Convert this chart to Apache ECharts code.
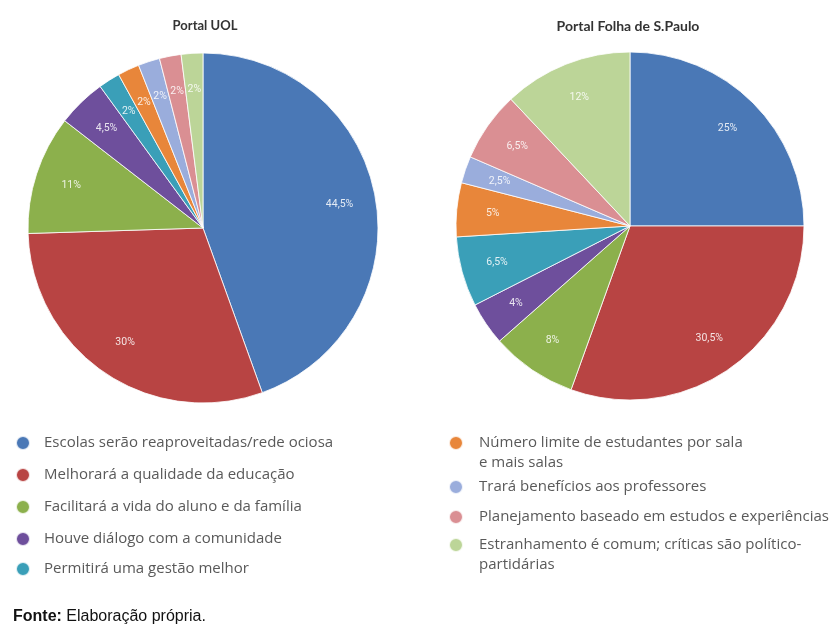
<!DOCTYPE html>
<html>
<head>
<meta charset="utf-8">
<script src="https://cdn.jsdelivr.net/npm/echarts@6/dist/echarts.min.js"></script>
<style>
html,body{margin:0;padding:0;background:#fff;}
#chart{width:831px;height:626px;}
</style>
</head>
<body>
<div id="chart"></div>
<script>
var categories = [
  'Escolas serão reaproveitadas/rede ociosa',
  'Melhorará a qualidade da educação',
  'Facilitará a vida do aluno e da família',
  'Houve diálogo com a comunidade',
  'Permitirá uma gestão melhor',
  'Número limite de estudantes por sala\ne mais salas',
  'Trará benefícios aos professores',
  'Planejamento baseado em estudos e experiências',
  'Estranhamento é comum; críticas são político-\npartidárias'
];
var uolValues = [44.5, 30, 11, 4.5, 2, 2, 2, 2, 2];
var folhaValues = [25, 30.5, 8, 4, 6.5, 5, 2.5, 6.5, 12];
var titles = ['Portal UOL', 'Portal Folha de S.Paulo'];
var colors = ['#4a78b6', '#b84443', '#8cb04c', '#6e4f9c', '#3a9fb8', '#e8863a', '#9aaddc', '#da8f93', '#bcd598'];

var chart = echarts.init(document.getElementById('chart'));

function toData(vals) {
  return vals.map(function (v, i) { return { name: categories[i], value: v }; });
}
function fmt(p) { return String(p.value).replace('.', ',') + '%'; }

var pies = [
  { center: [203, 228], r: 175, values: uolValues },
  { center: [630, 226], r: 174, values: folhaValues }
];

var series = [];
pies.forEach(function (p) {
  series.push({
    type: 'pie', center: p.center, radius: [0, p.r], startAngle: 90, clockwise: true,
    data: toData(p.values), label: { show: false }, labelLine: { show: false },
    itemStyle: { borderColor: 'rgba(255,255,255,0.8)', borderWidth: 1 },
    emphasis: { disabled: true }, animation: false
  });
});
pies.forEach(function (p) {
  series.push({
    type: 'pie', center: p.center, radius: [p.r * 0.55, p.r], startAngle: 90, clockwise: true,
    data: toData(p.values), silent: true,
    itemStyle: { color: 'rgba(0,0,0,0)', borderWidth: 0 },
    label: { show: true, position: 'inside', formatter: fmt, color: 'rgba(255,255,255,0.85)',
             fontSize: 10.5, fontFamily: 'Roboto' },
    labelLine: { show: false }, emphasis: { disabled: true }, animation: false
  });
});

// legend layout: [marker center x, marker center y, text offset]
var legendLayout = [
  [22, 443, 9], [22, 475, 9], [22, 507, 9], [22, 539, 9], [22, 569, 9],
  [455, 443, 11], [455, 487, 11], [455, 517, 11], [455, 545, 11]
];
var legends = categories.map(function (name, i) {
  var L = legendLayout[i];
  var multi = name.indexOf('\n') >= 0;
  return {
    data: [name], orient: 'vertical', left: L[0] - 7, top: L[1] - (multi ? 30 : 10),
    padding: 0, icon: 'circle', itemWidth: 14, itemHeight: 14,
    selectedMode: false,
    formatter: function (n) { return multi ? '\n' + n : n; },
    textStyle: { fontFamily: 'Open Sans', fontSize: 15, color: '#595959', lineHeight: 20,
                 padding: [0, 0, 0, L[2]] }
  };
});

chart.setOption({
  backgroundColor: '#fff',
  color: colors,
  animation: false,
  title: [
    { text: titles[0], left: 200, top: 14, textAlign: 'center',
      textStyle: { fontFamily: 'Lato', fontWeight: 'bold', fontSize: 13, color: '#333' } },
    { text: titles[1], left: 623, top: 14, textAlign: 'center',
      textStyle: { fontFamily: 'Lato', fontWeight: 'bold', fontSize: 14, color: '#333' } },
    { text: '{b|Fonte:} {n|Elaboração própria.}', left: 8, top: 604,
      textStyle: { fontFamily: 'Liberation Sans', fontSize: 16, fontWeight: 'normal', color: '#111',
        rich: {
          b: { fontFamily: 'Liberation Sans', fontSize: 16, fontWeight: 'bold', color: '#111' },
          n: { fontFamily: 'Liberation Sans', fontSize: 16, fontWeight: 'normal', color: '#111' }
        } } }
  ],
  legend: legends,
  series: series
});
</script>
</body>
</html>
